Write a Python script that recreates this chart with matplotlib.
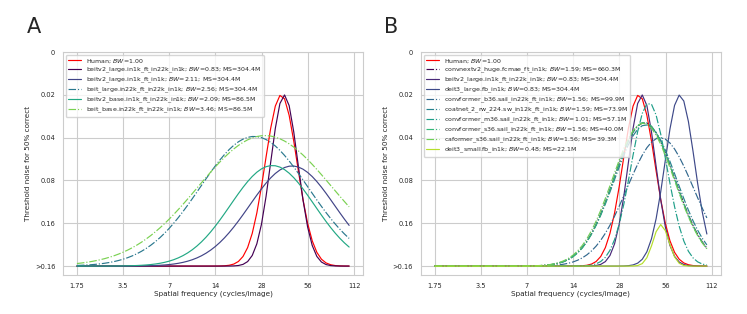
import numpy as np
import matplotlib.pyplot as plt
import seaborn as sns

sns.set_style("whitegrid")
plt.rcParams['font.family'] = ['DejaVu Sans']

freq_ticks = [1.75, 3.5, 7, 14, 28, 56, 112]
freq_labels = ["1.75", "3.5", "7", "14", "28", "56", "112"]
level_labels = ["0", "0.02", "0.04", "0.08", "0.16", ">0.16"]

# human reference curve (shared by both panels)
human_bw = 1.00
human_peak_freq = 37.5
human_peak_level = 1.0      # 1 = 0.02, 2 = 0.04, ... 5 = >0.16
human_width = 0.344         # gaussian sd in octaves

# panel A
a_names = ["beitv2_large.in1k_ft_in22k_in1k", "beitv2_large.in1k_ft_in1k",
           "beit_large.in22k_ft_in22k_in1k", "beitv2_base.in1k_ft_in22k_in1k",
           "beit_base.in22k_ft_in22k_in1k"]
a_bw = [0.83, 2.11, 2.56, 2.09, 3.46]
a_ms = [304.4, 304.4, 304.4, 86.5, 86.5]
a_peak_freq = [39.3, 44.2, 25.0, 32.9, 29.4]
a_peak_level = [1.0, 2.66, 1.97, 2.65, 1.95]
a_width = [0.294, 0.92, 1.17, 0.91, 1.45]
a_styles = ["-", "-", "-.", "-", "-."]

# panel B
b_names = ["convnextv2_huge.fcmae_ft_in1k", "beitv2_large.in1k_ft_in22k_in1k",
           "deit3_large.fb_in1k", "convformer_b36.sail_in22k_ft_in1k",
           "coatnet_2_rw_224.sw_in12k_ft_in1k", "convformer_m36.sail_in22k_ft_in1k",
           "convformer_s36.sail_in22k_ft_in1k", "caformer_s36.sail_in22k_ft_in1k",
           "deit3_small.fb_in1k"]
b_bw = [1.59, 0.83, 0.83, 1.56, 1.59, 1.01, 1.56, 1.56, 0.48]
b_ms = [660.3, 304.4, 304.4, 99.9, 73.9, 57.1, 40.0, 39.3, 22.1]
b_peak_freq = [40.7, 39.3, 69.3, 51.7, 41.5, 43.6, 40.7, 40.0, 52.2]
b_peak_level = [1.65, 1.0, 1.0, 2.0, 1.7, 1.18, 1.64, 1.66, 4.03]
b_width = [0.664, 0.294, 0.32, 0.72, 0.68, 0.39, 0.66, 0.67, 0.17]
b_styles = ["-.", "-", "-", "-.", "-.", "-.", "-.", "-.", "-"]

freqs = np.geomspace(1.75, 104, 60)


def tuning(fc, peak, sd):
    d = np.log2(freqs) - np.log2(fc)
    return 5 - (5 - peak) * np.exp(-d ** 2 / (2 * sd ** 2))


def panel(ax, names, bw, ms, fc, peak, sd, styles):
    ax.plot(freqs, tuning(human_peak_freq, human_peak_level, human_width),
            color="red", lw=0.85, label=f"Human; $BW$={human_bw:.2f}")
    n = len(names)
    for i in range(n):
        ax.plot(freqs, tuning(fc[i], peak[i], sd[i]), ls=styles[i], lw=0.85,
                color=plt.cm.viridis(i / n),
                label=f"{names[i]}; $BW$={bw[i]:.2f}; MS={ms[i]:.1f}M")
    ax.set_xscale("log", base=2)
    ax.set_xticks(freq_ticks)
    ax.set_xticklabels(freq_labels)
    ax.minorticks_off()
    ax.set_xlim(1.42, 128)
    ax.set_yticks(range(6))
    ax.set_yticklabels(level_labels)
    ax.set_ylim(5.21, 0)
    ax.tick_params(labelsize=4.8, pad=2, colors="#262626")
    ax.set_xlabel("Spatial frequency (cycles/image)", fontsize=5.2, labelpad=1)
    ax.set_ylabel("Threshold noise for 50% correct", fontsize=5.2, labelpad=3)
    ax.legend(loc="upper left", fontsize=4.5, borderaxespad=0.5,
              labelspacing=0.1, borderpad=0.35)


fig = plt.figure(figsize=(7.47, 3.14), dpi=100)
axA = fig.add_axes([0.0843, 0.124, 0.4016, 0.710])
axB = fig.add_axes([0.5632, 0.124, 0.4016, 0.710])

panel(axA, a_names, a_bw, a_ms, a_peak_freq, a_peak_level, a_width, a_styles)
panel(axB, b_names, b_bw, b_ms, b_peak_freq, b_peak_level, b_width, b_styles)

fig.text(27 / 747, 1 - 33 / 314, "A", fontsize=15)
fig.text(384 / 747, 1 - 33 / 314, "B", fontsize=15)

fig.savefig("out.png", dpi=100)
